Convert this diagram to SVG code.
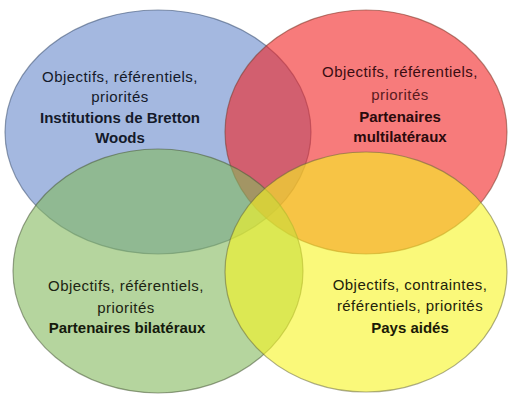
<svg xmlns="http://www.w3.org/2000/svg" width="510" height="396" viewBox="0 0 510 396">
<style>
.c{stroke-width:1.2;stroke-opacity:0.55}
.t{font-family:"Liberation Sans",Arial,sans-serif;font-size:15px;text-anchor:middle;letter-spacing:0.45px}
.b{font-weight:bold;letter-spacing:0}
</style>
<rect width="510" height="396" fill="#ffffff"/>
<g id="blue">
<ellipse class="c" cx="158" cy="132" rx="153" ry="122" fill="#6789cb" fill-opacity="0.6" stroke="#3d5170"/>
<text class="t" fill="#141a2a" x="120" y="82">Objectifs, référentiels,</text>
<text class="t" fill="#141a2a" x="120" y="102">priorités</text>
<text class="t b" fill="#141a2a" x="120" y="123">Institutions de Bretton</text>
<text class="t b" fill="#141a2a" x="120" y="143">Woods</text>
</g>
<g id="red">
<ellipse class="c" cx="366" cy="132" rx="141" ry="122" fill="#f22323" fill-opacity="0.6" stroke="#7a3a2a"/>
<text class="t" fill="#3a0d12" x="400" y="77">Objectifs, référentiels,</text>
<text class="t" fill="#5a1a1e" x="400" y="100">priorités</text>
<text class="t b" fill="#2a0a0c" x="400" y="122">Partenaires</text>
<text class="t b" fill="#2a0a0c" x="400" y="142">multilatéraux</text>
</g>
<g id="green">
<ellipse class="c" cx="158" cy="271" rx="145" ry="122" fill="#84b95d" fill-opacity="0.6" stroke="#4a5a3a"/>
<text class="t" fill="#1c2412" x="126" y="291">Objectifs, référentiels,</text>
<text class="t" fill="#1c2412" x="126" y="313">priorités</text>
<text class="t b" fill="#141a0c" x="127" y="333">Partenaires bilatéraux</text>
</g>
<g id="yellow">
<ellipse class="c" cx="366" cy="272" rx="141" ry="120" fill="#f7f521" fill-opacity="0.6" stroke="#6a6a3a"/>
<text class="t" fill="#22220a" x="410" y="290">Objectifs, contraintes,</text>
<text class="t" fill="#22220a" x="410" y="311">référentiels, priorités</text>
<text class="t b" fill="#1a1a06" x="410" y="333">Pays aidés</text>
</g>
</svg>
